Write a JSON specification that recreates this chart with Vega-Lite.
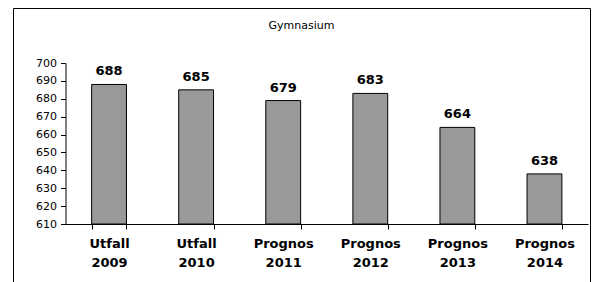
{
  "$schema": "https://vega.github.io/schema/vega-lite/v6.json",
  "autosize": {"type": "none"},
  "padding": {"left": 13, "top": 8, "right": 13, "bottom": 0},
  "width": 577,
  "height": 280,
  "background": "white",
  "config": {
    "view": {"stroke": "black", "strokeWidth": 1},
    "font": "DejaVu Sans"
  },
  "title": {
    "text": "Gymnasium",
    "fontSize": 11,
    "fontWeight": "normal",
    "font": "DejaVu Sans",
    "color": "black",
    "anchor": "middle",
    "offset": -34,
    "baseline": "bottom"
  },
  "data": {
    "values": [
      {"period": "Utfall 2009", "value": 688},
      {"period": "Utfall 2010", "value": 685},
      {"period": "Prognos 2011", "value": 679},
      {"period": "Prognos 2012", "value": 683},
      {"period": "Prognos 2013", "value": 664},
      {"period": "Prognos 2014", "value": 638}
    ]
  },
  "encoding": {
    "x": {
      "field": "period",
      "type": "nominal",
      "sort": null,
      "scale": {"range": [52.5, 575], "paddingInner": 0.6, "paddingOuter": 0.3},
      "axis": {
        "title": null,
        "offset": -64,
        "labelAngle": 0,
        "labelExpr": "split(datum.label, ' ')",
        "labelFont": "DejaVu Sans",
        "labelFontSize": 13,
        "labelFontWeight": "bold",
        "labelColor": "black",
        "labelLineHeight": 19,
        "labelPadding": 8,
        "tickBand": "extent",
        "tickColor": "black",
        "tickSize": 5,
        "domainColor": "black",
        "grid": false
      }
    },
    "y": {
      "field": "value",
      "type": "quantitative",
      "scale": {"domain": [610, 700], "nice": false, "zero": false, "range": [216, 55]},
      "axis": {
        "title": null,
        "offset": -52.5,
        "values": [610, 620, 630, 640, 650, 660, 670, 680, 690, 700],
        "labelFont": "DejaVu Sans",
        "labelFontSize": 11,
        "labelColor": "black",
        "labelPadding": 4,
        "tickColor": "black",
        "tickSize": 5,
        "domainColor": "black",
        "grid": false
      }
    }
  },
  "layer": [
    {
      "mark": {"type": "bar", "fill": "#999999", "stroke": "black", "strokeWidth": 1},
      "encoding": {"y2": {"datum": 610}}
    },
    {
      "mark": {"type": "text", "baseline": "alphabetic", "dy": -9, "fontSize": 13, "fontWeight": "bold", "font": "DejaVu Sans", "color": "black"},
      "encoding": {"text": {"field": "value", "type": "quantitative"}}
    }
  ]
}
